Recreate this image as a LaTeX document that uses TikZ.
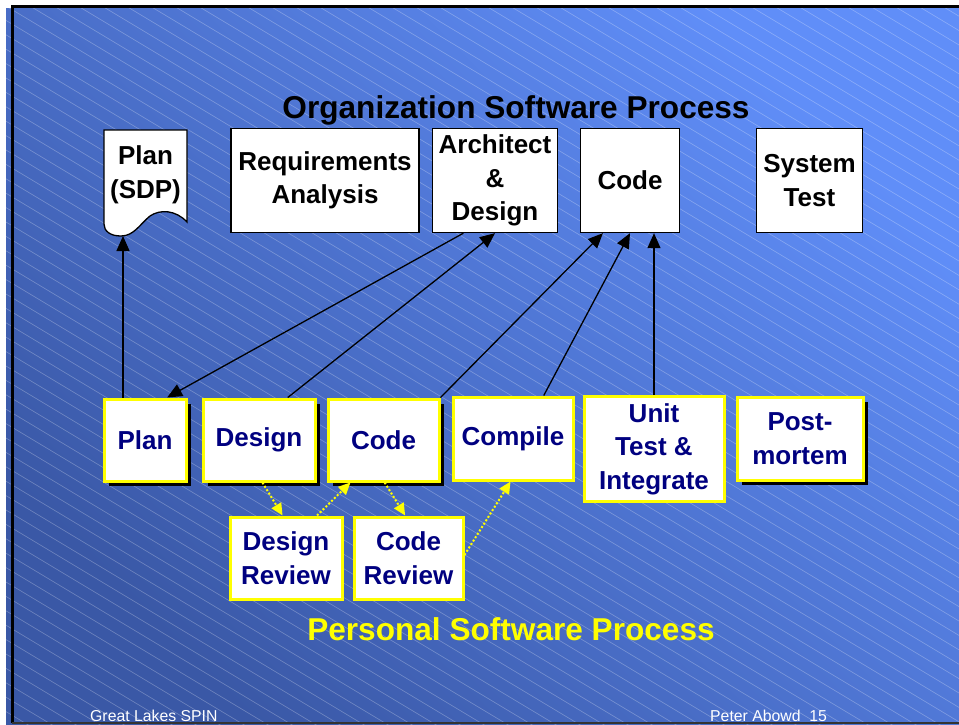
\documentclass[tikz,border=0pt]{standalone}
\usepackage{fontspec}
\setmainfont{Liberation Sans}
\usepackage{tikz}
\usetikzlibrary{positioning,calc,arrows.meta,shadows}

\definecolor{slidedark}{RGB}{58,88,166}
\definecolor{slidelight}{RGB}{96,142,248}
\definecolor{pspnavy}{RGB}{0,0,128}
\definecolor{pspyellow}{RGB}{255,255,0}

\newcommand{\boxfont}{\fontsize{26}{33.5}\selectfont\bfseries}
\newcommand{\titlefont}{\fontsize{31.6}{36}\selectfont\bfseries}
\newcommand{\footfont}{\fontsize{15.8}{18}\selectfont}

\begin{document}
\begin{tikzpicture}[
	x=1pt, y=-1pt,
	orgbox/.style={draw=black, fill=white, line width=1.3pt, align=center, font=\boxfont, text=black, inner sep=1pt},
	pspbox/.style={draw=pspyellow, fill=white, line width=3pt, align=center, font=\boxfont, text=pspnavy, inner sep=1pt},
	shadowed/.style={drop shadow={shadow xshift=5pt, shadow yshift=-5pt, fill=black, opacity=1}},
	orgarrow/.style={-{Triangle[length=15pt,width=13pt]}, line width=1.3pt, black},
	reviewarrow/.style={-{Triangle[length=12pt,width=11pt]}, line width=2pt, pspyellow, dotted},
	]
	\useasboundingbox (0,0) rectangle (959,724);
	%Slide background
	\fill[white] (0,0) rectangle (959,724);
	\shade[top color=slidelight, bottom color=slidedark, shading angle=-45] (6,8) rectangle (959,724);
	\begin{scope}
		\clip (6,8) rectangle (959,724);
		\foreach \c in {-1300,-1276,...,960}
			\draw[white, opacity=0.28, line width=0.6pt] (\c,0) -- ++(1300,780);
	\end{scope}
	\draw[black, line width=3pt] (11,6.5) -- (959,6.5);
	\draw[black, line width=3pt] (12,6) -- (12,723);
	\draw[black!80, line width=1.5pt] (12,723) -- (959,723);
	
	%Organization process
	\node[font=\titlefont] (orgtitle) at (516,110) {Organization Software Process};
	\draw[black, fill=white, line width=1.3pt] (104,130) -- (187,130) -- (187,222)
		.. controls (176,210) and (160,209) .. (150,216)
		.. controls (140,224) and (134,236) .. (121,236)
		.. controls (110,236) and (104,231) .. (104,224) -- cycle;
	\node[align=center, font=\boxfont] (sdp) at (145.5,175) {Plan\\(SDP)};
	\coordinate (sdpfoot) at (123,236);
	\node[orgbox, minimum width=188pt, minimum height=104pt] (req)     at (325,180.5) {Requirements\\Analysis};
	\node[orgbox, minimum width=125pt, minimum height=104pt] (arch)    at (495,180.5) {Architect\\\&\\Design};
	\node[orgbox, minimum width=99pt,  minimum height=104pt] (ocode)   at (630,180.5) {Code};
	\node[orgbox, minimum width=106pt, minimum height=104pt] (systest) at (809.5,180.5) {System\\Test};
	
	%Personal process
	\node[pspbox, shadowed, minimum width=82pt,  minimum height=82pt] (plan)    at (145,440) {Plan};
	\node[pspbox, shadowed, minimum width=112pt, minimum height=82pt] (design)  at (259,440) {Design};
	\node[pspbox, shadowed, minimum width=111pt, minimum height=82pt] (code)    at (383.5,440) {Code};
	\node[pspbox,           minimum width=120pt, minimum height=83pt] (compile) at (513,438.5) {Compile};
	\node[pspbox,           minimum width=140pt, minimum height=105pt] (unit)   at (654,449) {Unit\\Test \&\\Integrate};
	\node[pspbox, shadowed, minimum width=126pt, minimum height=83pt] (post)    at (800,438.5) {Post-\\mortem};
	\node[pspbox, minimum width=112pt, minimum height=82pt] (drev) at (286,558) {Design\\Review};
	\node[pspbox, minimum width=109pt, minimum height=82pt] (crev) at (408.5,558) {Code\\Review};
	\node[font=\titlefont, text=pspyellow] (psptitle) at (511,629) {Personal Software Process};
	
	%Footer
	\node[font=\footfont, text=white, anchor=base west, inner sep=0pt] (spin)  at (90,721) {Great Lakes SPIN};
	\node[font=\footfont, text=white, anchor=base west, inner sep=0pt] (abowd) at (710,721) {Peter Abowd\ \ 15};
	
	%Lines
	\draw[orgarrow] (plan.north -| sdpfoot) -- (sdpfoot);
	\draw[orgarrow] ($(arch.south west)!0.25!(arch.south east)$) -- ($(plan.north west)!0.76!(plan.north east)$);
	\draw[orgarrow] ($(design.north west)!0.75!(design.north east)$) -- (arch.south);
	\draw[orgarrow] (code.north east) -- ($(ocode.south west)!0.23!(ocode.south east)$);
	\draw[orgarrow] ($(compile.north west)!0.75!(compile.north east)$) -- (ocode.south);
	\draw[orgarrow] (unit.north) -- (unit.north |- ocode.south);
	
	\draw[reviewarrow] ($(design.south west)!0.53!(design.south east)$) -- ($(drev.north west)!0.47!(drev.north east)$);
	\draw[reviewarrow] ($(drev.north west)!0.77!(drev.north east)$) -- ($(code.south west)!0.21!(code.south east)$);
	\draw[reviewarrow] ($(code.south west)!0.51!(code.south east)$) -- ($(crev.north west)!0.47!(crev.north east)$);
	\draw[reviewarrow] ([yshift=3pt]crev.east) -- ($(compile.south west)!0.48!(compile.south east)$);
\end{tikzpicture}
\end{document}
